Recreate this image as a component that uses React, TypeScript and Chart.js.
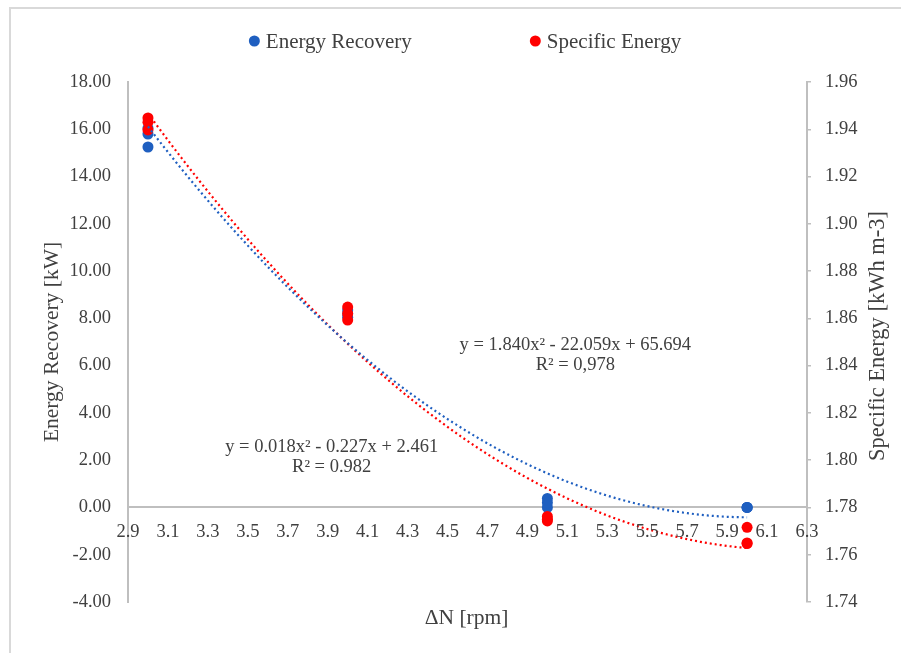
import React, { useEffect, useRef } from "react";
import { Chart, registerables } from "chart.js";

Chart.register(...registerables);

// ---- Data ----
const energyRecoveryX = [3, 3, 3, 4, 4, 4, 5, 5, 5, 6, 6, 6];
const energyRecoveryY = [15.25, 15.8, 16.05, 8.05, 8.2, 8.35, 0.38, 0.0, 0.2, 0.0, 0.0, 0.0];

const specificEnergyX = [3, 3, 3, 4, 4, 4, 5, 5, 5, 6, 6, 6];
const specificEnergyY = [1.9448, 1.943, 1.9397, 1.8648, 1.862, 1.8593, 1.7762, 1.775, 1.7743, 1.7716, 1.765, 1.7647];

const seriesLabels = ["Energy Recovery", "Specific Energy"];
const seriesColors = ["#1F5FC0", "#FF0000"];

const energyEquation = ["y = 1.840x\u00B2 - 22.059x + 65.694", "R\u00B2 = 0,978"];
const specificEquation = ["y = 0.018x\u00B2 - 0.227x + 2.461", "R\u00B2 = 0.982"];

const xTitle = "\u0394N [rpm]";
const yLeftTitle = "Energy Recovery [kW]";
const yRightTitle = "Specific Energy [kWh m-3]";

const xRange = [2.9, 6.3, 0.2];
const yLeftRange = [-4, 18, 2];
const yRightRange = [1.74, 1.96, 0.02];

// least-squares quadratic fit (like a spreadsheet polynomial trendline)
function quadFit(xs: number[], ys: number[]) {
  let s0 = 0, s1 = 0, s2 = 0, s3 = 0, s4 = 0, t0 = 0, t1 = 0, t2 = 0;
  for (let i = 0; i < xs.length; i++) {
    const x = xs[i], y = ys[i];
    s0 += 1; s1 += x; s2 += x * x; s3 += x * x * x; s4 += x * x * x * x;
    t0 += y; t1 += x * y; t2 += x * x * y;
  }
  const M = [
    [s4, s3, s2, t2],
    [s3, s2, s1, t1],
    [s2, s1, s0, t0],
  ];
  for (let c = 0; c < 3; c++) {
    let p = c;
    for (let r = c + 1; r < 3; r++) if (Math.abs(M[r][c]) > Math.abs(M[p][c])) p = r;
    [M[c], M[p]] = [M[p], M[c]];
    for (let r = 0; r < 3; r++) {
      if (r === c) continue;
      const f = M[r][c] / M[c][c];
      for (let k = c; k < 4; k++) M[r][k] -= f * M[c][k];
    }
  }
  return [M[0][3] / M[0][0], M[1][3] / M[1][1], M[2][3] / M[2][2]];
}

function trendPoints(xs: number[], ys: number[]) {
  const [a, b, c] = quadFit(xs, ys);
  const lo = Math.min(...xs), hi = Math.max(...xs);
  const pts: { x: number; y: number }[] = [];
  const n = 90;
  for (let i = 0; i <= n; i++) {
    const x = lo + ((hi - lo) * i) / n;
    pts.push({ x, y: a * x * x + b * x + c });
  }
  return pts;
}

const FONT = '"Liberation Serif", "Times New Roman", serif';
const TEXT = "#404040";
const AXIS = "#BFBFBF";

const decorPlugin = {
  id: "decor",
  beforeDraw(chart: any) {
    const ctx = chart.ctx;
    ctx.save();
    ctx.fillStyle = "#ffffff";
    ctx.fillRect(0, 0, chart.width, chart.height);
    ctx.strokeStyle = "#D9D9D9";
    ctx.lineWidth = 2;
    ctx.strokeRect(10, 8, chart.width + 20, chart.height + 20);
    ctx.restore();
  },
  afterDraw(chart: any) {
    const ctx = chart.ctx;
    const area = chart.chartArea;
    const xs = chart.scales.x;
    const yl = chart.scales.y;
    ctx.save();
    ctx.fillStyle = TEXT;

    // Axis titles
    ctx.textAlign = "center";
    ctx.textBaseline = "middle";
    ctx.font = `21.5px ${FONT}`;
    ctx.fillText(xTitle, (area.left + area.right) / 2 - 1, area.bottom + 16);

    ctx.save();
    ctx.translate(area.left - 76, (area.top + area.bottom) / 2);
    ctx.rotate(-Math.PI / 2);
    ctx.fillText(yLeftTitle, 0, 0);
    ctx.restore();

    ctx.font = `22.5px ${FONT}`;
    ctx.save();
    ctx.translate(area.right + 71, (area.top + area.bottom) / 2 - 6);
    ctx.rotate(-Math.PI / 2);
    ctx.fillText(yRightTitle, 0, 0);
    ctx.restore();

    // Legend
    ctx.font = `21px ${FONT}`;
    ctx.textAlign = "left";
    const r = 5.5;
    const gapDotText = 6;
    const itemGap = 118;
    const widths = seriesLabels.map((l) => 2 * r + gapDotText + ctx.measureText(l).width);
    const total = widths.reduce((s, w) => s + w, 0) + itemGap * (widths.length - 1);
    let lx = (area.left + area.right) / 2 - 2.5 - total / 2;
    const ly = area.top - 41;
    seriesLabels.forEach((l, i) => {
      ctx.fillStyle = seriesColors[i];
      ctx.beginPath();
      ctx.arc(lx + r, ly, r, 0, Math.PI * 2);
      ctx.fill();
      ctx.fillStyle = TEXT;
      ctx.fillText(l, lx + 2 * r + gapDotText, ly + 1);
      lx += widths[i] + itemGap;
    });

    // Trendline equations
    ctx.font = `18.5px ${FONT}`;
    ctx.textAlign = "center";
    const ex = xs.getPixelForValue(5.14);
    const ey = yl.getPixelForValue(6.87);
    ctx.fillText(energyEquation[0], ex, ey);
    ctx.fillText(energyEquation[1], ex, ey + 20);
    const sx = xs.getPixelForValue(3.92);
    const sy = yl.getPixelForValue(2.56);
    ctx.fillText(specificEquation[0], sx, sy);
    ctx.fillText(specificEquation[1], sx, sy + 20);
    ctx.restore();
  },
};

export default function App() {
  const canvasRef = useRef<HTMLCanvasElement | null>(null);

  useEffect(() => {
    const canvas = canvasRef.current;
    if (!canvas) return;
    const tickFont = { family: FONT, size: 18.5 };

    const chart = new Chart(canvas, {
      type: "scatter",
      data: {
        datasets: [
          {
            label: seriesLabels[0],
            data: energyRecoveryX.map((x, i) => ({ x, y: energyRecoveryY[i] })),
            yAxisID: "y",
            backgroundColor: seriesColors[0],
            borderWidth: 0,
            pointRadius: 5.5,
            order: 4,
          },
          {
            label: seriesLabels[1],
            data: specificEnergyX.map((x, i) => ({ x, y: specificEnergyY[i] })),
            yAxisID: "y2",
            backgroundColor: seriesColors[1],
            borderWidth: 0,
            pointRadius: 5.5,
            order: 3,
          },
          {
            type: "line",
            label: "trend1",
            data: trendPoints(energyRecoveryX, energyRecoveryY),
            yAxisID: "y",
            borderColor: seriesColors[0],
            borderWidth: 2.2,
            borderDash: [2, 3],
            borderCapStyle: "butt",
            pointRadius: 0,
            fill: false,
            tension: 0,
            order: 1,
          },
          {
            type: "line",
            label: "trend2",
            data: trendPoints(specificEnergyX, specificEnergyY),
            yAxisID: "y2",
            borderColor: seriesColors[1],
            borderWidth: 2.2,
            borderDash: [2, 3],
            borderCapStyle: "butt",
            pointRadius: 0,
            fill: false,
            tension: 0,
            order: 2,
          },
        ] as any,
      },
      options: {
        animation: false,
        responsive: false,
        events: [],
        layout: { padding: { left: 0, right: 0, top: 82, bottom: 51 } },
        plugins: { legend: { display: false }, tooltip: { enabled: false } },
        scales: {
          x: {
            type: "linear",
            position: { y: 0 } as any,
            min: xRange[0],
            max: xRange[1],
            grid: { display: false, drawTicks: false },
            border: { display: true, color: AXIS, width: 2 },
            ticks: {
              z: 1,
              stepSize: xRange[2],
              font: tickFont,
              color: TEXT,
              padding: 14,
              maxRotation: 0,
              autoSkip: false,
              callback: (v: any) => Number(v).toFixed(1),
            },
          },
          y: {
            type: "linear",
            position: "left",
            min: yLeftRange[0],
            max: yLeftRange[1],
            grid: { display: false, drawTicks: false },
            border: { display: true, color: AXIS, width: 2 },
            ticks: {
              stepSize: yLeftRange[2],
              font: tickFont,
              color: TEXT,
              padding: 17,
              callback: (v: any) => Number(v).toFixed(2),
            },
            afterFit: (s: any) => {
              s.width = 128;
            },
          },
          y2: {
            type: "linear",
            position: "right",
            min: yRightRange[0],
            max: yRightRange[1],
            grid: {
              display: true,
              drawOnChartArea: false,
              drawTicks: true,
              tickLength: 4,
              color: AXIS,
              lineWidth: 1.5,
            },
            border: { display: true, color: AXIS, width: 2 },
            ticks: {
              stepSize: yRightRange[2],
              font: tickFont,
              color: TEXT,
              padding: 14,
              callback: (v: any) => Number(v).toFixed(2),
            },
            afterFit: (s: any) => {
              s.width = 94;
            },
          },
        },
      } as any,
      plugins: [decorPlugin],
    });
    return () => chart.destroy();
  }, []);

  return (
    <div style={{ position: "fixed", left: 0, top: 0, width: 901, height: 653, background: "#fff" }}>
      <canvas ref={canvasRef} width={901} height={653} style={{ display: "block" }} />
    </div>
  );
}
